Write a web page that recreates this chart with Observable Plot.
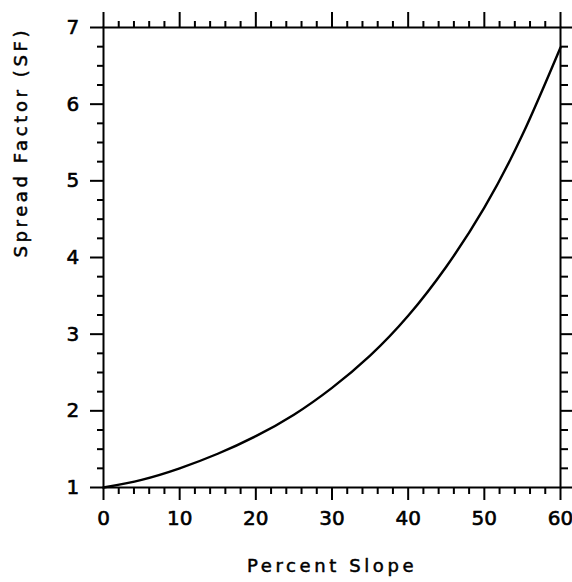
<!DOCTYPE html>
<html>
<head>
<meta charset="utf-8">
<script src="https://cdn.jsdelivr.net/npm/d3@7"></script>
<script src="https://cdn.jsdelivr.net/npm/@observablehq/plot@0.6"></script>
<style>
  html, body { margin: 0; padding: 0; background: #fff; }
  #chart svg { display: block; }
</style>
</head>
<body>
<div id="chart"></div>
<script>
// Values
const slopePct = [0, 5, 10, 15, 20, 25, 30, 35, 40, 45, 50, 55, 60];
const spreadFactor = [1.00, 1.10, 1.25, 1.44, 1.67, 1.95, 2.30, 2.72, 3.24, 3.88, 4.65, 5.60, 6.74];

const xMajorTicks = [0, 10, 20, 30, 40, 50, 60];
const xMinorTicks = [2, 4, 6, 8, 12, 14, 16, 18, 22, 24, 26, 28, 32, 34, 36, 38, 42, 44, 46, 48, 52, 54, 56, 58];
const yMajorTicks = [1, 2, 3, 4, 5, 6, 7];
const yMinorTicks = [1.25, 1.5, 1.75, 2.25, 2.5, 2.75, 3.25, 3.5, 3.75, 4.25, 4.5, 4.75, 5.25, 5.5, 5.75, 6.25, 6.5, 6.75];

const xTitle = "Percent Slope";
const yTitle = "Spread Factor (SF)";

const curve = slopePct.map((s, i) => ({slope: s, sf: spreadFactor[i]}));

const font = "DejaVu Sans";

const chart = Plot.plot({
  width: 572,
  height: 582,
  marginLeft: 103,
  marginRight: 12,
  marginTop: 27,
  marginBottom: 95,
  style: {fontFamily: font, background: "#fff", color: "#000"},
  x: {domain: [0, 60]},
  y: {domain: [1, 7]},
  marks: [
    // bottom ticks
    Plot.axisX({anchor: "bottom", ticks: xMajorTicks, tickSize: 13, text: null, strokeWidth: 2, label: null}),
    Plot.axisX({anchor: "bottom", ticks: xMinorTicks, tickSize: 7, text: null, strokeWidth: 2, label: null}),
    // top ticks
    Plot.axisX({anchor: "top", ticks: xMajorTicks, tickSize: 16, text: null, strokeWidth: 2, label: null}),
    Plot.axisX({anchor: "top", ticks: xMinorTicks, tickSize: 7, text: null, strokeWidth: 2, label: null}),
    // left ticks
    Plot.axisY({anchor: "left", ticks: yMajorTicks, tickSize: 13, text: null, strokeWidth: 2, label: null}),
    Plot.axisY({anchor: "left", ticks: yMinorTicks, tickSize: 6, text: null, strokeWidth: 2, label: null}),
    // right ticks
    Plot.axisY({anchor: "right", ticks: yMajorTicks, tickSize: 12, text: null, strokeWidth: 2, label: null}),
    Plot.axisY({anchor: "right", ticks: yMinorTicks, tickSize: 7, text: null, strokeWidth: 2, label: null}),
    // tick labels
    Plot.text(xMajorTicks, {x: d => d, frameAnchor: "bottom", dy: 37, text: d => String(d), fontSize: 20, fill: "#000", stroke: "#000", strokeWidth: 0.6}),
    Plot.text(yMajorTicks, {y: d => d, frameAnchor: "left", dx: -37, text: d => String(d), fontSize: 20, fill: "#000", stroke: "#000", strokeWidth: 0.6}),
    // titles
    Plot.text([xTitle], {frameAnchor: "bottom", dy: 84, text: d => d, fontSize: 18, fill: "#000", stroke: "#000", strokeWidth: 0.5, className: "ttl"}),
    Plot.text([yTitle], {frameAnchor: "left", dx: -82, rotate: -90, text: d => d, fontSize: 18, fill: "#000", stroke: "#000", strokeWidth: 0.5, className: "ttl"}),
    Plot.frame({stroke: "#000", strokeWidth: 2}),
    Plot.line(curve, {x: "slope", y: "sf", curve: "natural", stroke: "#000", strokeWidth: 2.4})
  ]
});

chart.querySelectorAll(".ttl text").forEach(t => t.setAttribute("letter-spacing", "3.6"));
document.getElementById("chart").appendChild(chart);
</script>
</body>
</html>
